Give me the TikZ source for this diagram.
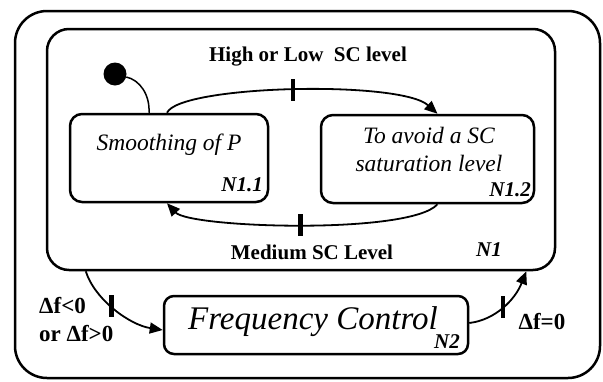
\documentclass[tikz,border=0pt]{standalone}
\usepackage{fontspec}
\setmainfont{Liberation Serif}
\usetikzlibrary{arrows.meta,calc}
\begin{document}
\begin{tikzpicture}[x=1pt,y=-1pt,
  box/.style={draw, line width=2.5pt, rounded corners=#1, inner sep=0pt},
  box/.default=12pt,
  conn/.style={line width=1.8pt, -{Triangle[length=13pt,width=11pt]}},
  plain/.style={line width=1.5pt},
  tickmark/.style={fill=black, draw=none, minimum width=4.5pt, minimum height=22pt, inner sep=0pt},
  lbl/.style={font=\fontsize{21}{24}\selectfont\bfseries, inner sep=0pt},
  dlbl/.style={font=\fontsize{23}{26}\selectfont\bfseries, inner sep=0pt},
  tag/.style={font=\fontsize{21}{24}\selectfont\bfseries\itshape, inner sep=0pt},
  state/.style={font=\fontsize{23.5}{28}\selectfont\itshape, inner sep=0pt, align=center}
]
\useasboundingbox (0,0) rectangle (603,381);
% boxes
\node[box=32pt, minimum width=585pt, minimum height=367pt] (outer) at (307.5,194.5) {};
\node[box=22pt, minimum width=508pt, minimum height=241pt] (n1) at (301,149.5) {};
\node[box=12pt, minimum width=198pt, minimum height=88pt] (n11) at (169,158) {};
\node[box=12pt, minimum width=213pt, minimum height=88pt] (n12) at (427.5,159) {};
\node[box=10pt, minimum width=304pt, minimum height=58pt] (freq) at (316,325) {};
% initial state
\node[circle, fill=black, minimum size=23pt, inner sep=0pt] (init) at (115,74) {};
% texts
\node[state] (t11) at (169,145) {Smoothing of P};
\node[state] (t12) at (429,149) {To avoid a SC\\saturation level};
\node[font=\fontsize{33}{36}\selectfont\itshape, inner sep=0pt] (tf) at (313,322) {Frequency Control};
\node[tag, anchor=east] (l11) at (263,185) {N1.1};
\node[tag, anchor=east] (l12) at (531,190) {N1.2};
\node[tag] (l1) at (489,250) {N1};
\node[tag] (l2) at (447,342) {N2};
\node[lbl] (hl) at (308,57) {High or Low\ \ SC level};
\node[lbl] (md) at (312,252) {Medium SC Level};
\node[dlbl, anchor=west] (fa) at (39,306) {Δf<0};
\node[dlbl, anchor=west] (fb) at (39,334) {or Δf>0};
\node[dlbl] (fc) at (542,322) {Δf=0};
% connectors
\draw[plain] (init.-15) .. controls (140,80) and (150,95) .. ([xshift=-20pt]n11.north);
\draw[conn] ([xshift=-2pt]n11.north) .. controls (180,85) and (400,80) .. node[tickmark, pos=.5] (k1) {} ([xshift=10pt]n12.north);
\draw[conn] ([xshift=10pt]n12.south) .. controls (410,235) and (190,228) .. node[tickmark, pos=.5] (k2) {} ([xshift=-2pt]n11.south);
\draw[conn] ([xshift=40pt]n1.south west) .. controls (95,300) and (130,325) .. node[tickmark, pos=.45] (k3) {} ([yshift=-5pt]freq.west);
\draw[conn] ([yshift=2pt]freq.east) .. controls (495,320) and (515,300) .. node[tickmark, pos=.5] (k4) {} ([xshift=-30pt]n1.south east);
\end{tikzpicture}
\end{document}
